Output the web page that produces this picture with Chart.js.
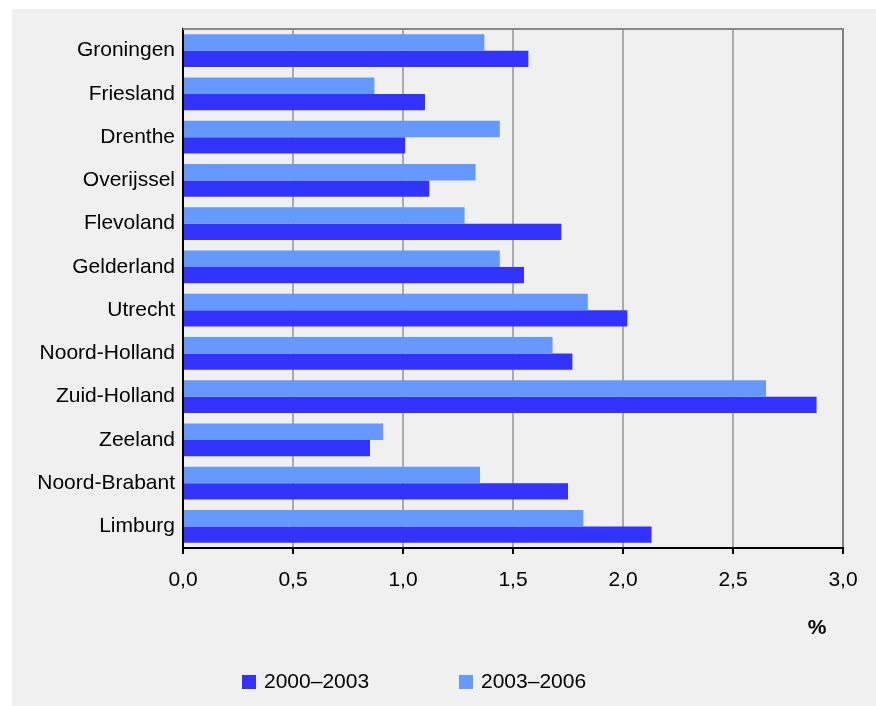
<!DOCTYPE html>
<html>
<head>
<meta charset="utf-8">
<script src="https://cdn.jsdelivr.net/npm/chart.js"></script>
<style>
  html, body { margin: 0; padding: 0; background: #ffffff; }
  #wrap { width: 876px; height: 706px; }
</style>
</head>
<body>
<div id="wrap"><canvas id="provChart" width="876" height="706"></canvas></div>
<script>
// Provinces, top to bottom
var provinces = ['Groningen', 'Friesland', 'Drenthe', 'Overijssel', 'Flevoland', 'Gelderland',
    'Utrecht', 'Noord-Holland', 'Zuid-Holland', 'Zeeland', 'Noord-Brabant', 'Limburg'];

// growth in %, per period
var period1 = [1.57, 1.10, 1.01, 1.12, 1.72, 1.55, 2.02, 1.77, 2.88, 0.85, 1.75, 2.13];
var period2 = [1.37, 0.87, 1.44, 1.33, 1.28, 1.44, 1.84, 1.68, 2.65, 0.91, 1.35, 1.82];

var seriesNames = ['2000\u20132003', '2003\u20132006'];
var seriesColors = ['#3333ff', '#6699ff'];

var xTicks = [0, 0.5, 1, 1.5, 2, 2.5, 3];
var unitLabel = '%';

var FONT = '"Liberation Sans", Arial, sans-serif';

// background: white frame with a light gray panel
var bgPlugin = {
    id: 'bg',
    beforeDraw: function (chart) {
        var ctx = chart.ctx;
        ctx.save();
        ctx.fillStyle = '#ffffff';
        ctx.fillRect(0, 0, chart.width, chart.height);
        ctx.fillStyle = '#f0f0f0';
        ctx.fillRect(12, 9, chart.width - 12, chart.height - 9);
        ctx.restore();
    },
    afterDraw: function (chart) {
        var ctx = chart.ctx;
        var a = chart.chartArea;
        ctx.save();
        // top border of plot area
        ctx.strokeStyle = '#888888';
        ctx.lineWidth = 2;
        ctx.beginPath();
        ctx.moveTo(a.left, a.top);
        ctx.lineTo(a.right + 1, a.top);
        ctx.stroke();

        // unit label
        ctx.fillStyle = '#000000';
        ctx.font = 'bold 21px ' + FONT;
        ctx.textAlign = 'center';
        ctx.textBaseline = 'middle';
        ctx.fillText(unitLabel, 817, 628);

        // legend
        ctx.font = '21px ' + FONT;
        ctx.textAlign = 'left';
        var legendX = [242, 459];
        for (var i = 0; i < seriesNames.length; i++) {
            ctx.fillStyle = seriesColors[i];
            ctx.fillRect(legendX[i], 675, 14, 14);
            ctx.fillStyle = '#000000';
            ctx.fillText(seriesNames[i], legendX[i] + 22, 682);
        }
        ctx.restore();
    }
};

var ctx = document.getElementById('provChart').getContext('2d');
var chart = new Chart(ctx, {
    type: 'bar',
    data: {
        labels: provinces,
        datasets: [{
            // light bars sit on top in each group
            label: seriesNames[1],
            backgroundColor: seriesColors[1],
            data: period2
        }, {
            label: seriesNames[0],
            backgroundColor: seriesColors[0],
            data: period1
        }]
    },
    options: {
        indexAxis: 'y',
        responsive: false,
        animation: false,
        devicePixelRatio: 1,
        categoryPercentage: 0.76,
        barPercentage: 1.0,
        layout: {
            padding: { left: 0, top: 29, right: 33, bottom: 108 }
        },
        plugins: {
            legend: { display: false },
            tooltip: { enabled: false }
        },
        scales: {
            x: {
                min: 0,
                max: 3,
                afterBuildTicks: function (scale) {
                    scale.ticks = xTicks.map(function (v) { return { value: v }; });
                },
                afterFit: function (scale) { scale.height = 50; },
                grid: {
                    color: function (c) { return c.tick && c.tick.value === 3 ? '#808080' : '#aaaaaa'; },
                    lineWidth: 2,
                    tickColor: '#000000',
                    tickLength: 6,
                    drawTicks: true
                },
                border: { display: true, color: '#000000', width: 2 },
                ticks: {
                    color: '#000000',
                    padding: 14,
                    font: { family: FONT, size: 21 },
                    callback: function (v) { return v.toFixed(1).replace('.', ','); }
                }
            },
            y: {
                afterFit: function (scale) { scale.width = 183; },
                grid: { display: false, drawTicks: false },
                border: { display: true, color: '#000000', width: 2 },
                ticks: {
                    color: '#000000',
                    padding: 8,
                    font: { family: FONT, size: 21 }
                }
            }
        }
    },
    plugins: [bgPlugin]
});
</script>
</body>
</html>
